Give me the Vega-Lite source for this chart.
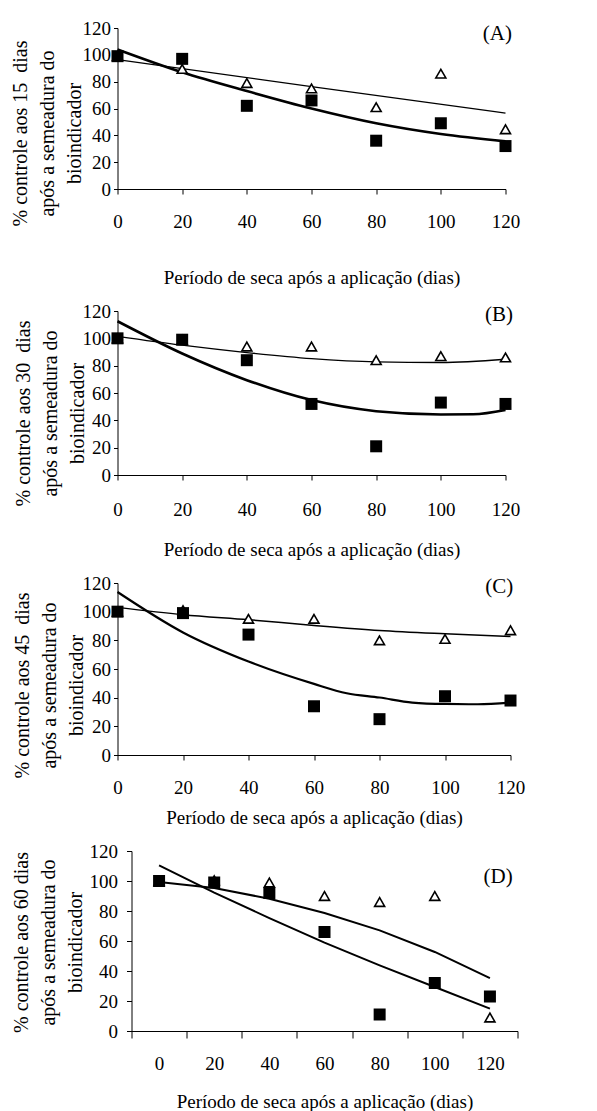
{
  "$schema": "https://vega.github.io/schema/vega-lite/v6.json",
  "background": "white",
  "padding": {"left": 9.5, "top": 19, "right": 0, "bottom": 0},
  "autosize": {"type": "pad"},
  "config": {
    "font": "Liberation Serif",
    "view": {"stroke": null},
    "axis": {
      "domainColor": "black", "tickColor": "black", "labelColor": "black", "titleColor": "black",
      "labelFont": "Liberation Serif", "titleFont": "Liberation Serif",
      "labelFontSize": 19, "titleFontSize": 19, "titleFontWeight": "normal",
      "grid": false, "labelFlush": false, "labelOverlap": false, "labelBound": false,
      "domainWidth": 1, "tickWidth": 1, "titleLineHeight": 27
    },
    "axisLeft": {"titleFontSize": 20, "titleBaseline": "alphabetic"}
  },
  "datasets": {
    "pts": [
      {"panel": "A", "s": "sq", "day": 0, "value": 99}, {"panel": "A", "s": "sq", "day": 20, "value": 97}, {"panel": "A", "s": "sq", "day": 40, "value": 62}, {"panel": "A", "s": "sq", "day": 60, "value": 66}, {"panel": "A", "s": "sq", "day": 80, "value": 36}, {"panel": "A", "s": "sq", "day": 100, "value": 49}, {"panel": "A", "s": "sq", "day": 120, "value": 32},
      {"panel": "A", "s": "tri", "day": 0, "value": 99}, {"panel": "A", "s": "tri", "day": 20, "value": 89.5}, {"panel": "A", "s": "tri", "day": 40, "value": 79}, {"panel": "A", "s": "tri", "day": 60, "value": 75}, {"panel": "A", "s": "tri", "day": 80, "value": 61}, {"panel": "A", "s": "tri", "day": 100, "value": 86}, {"panel": "A", "s": "tri", "day": 120, "value": 44.5},
      {"panel": "B", "s": "sq", "day": 0, "value": 100}, {"panel": "B", "s": "sq", "day": 20, "value": 99}, {"panel": "B", "s": "sq", "day": 40, "value": 84}, {"panel": "B", "s": "sq", "day": 60, "value": 52}, {"panel": "B", "s": "sq", "day": 80, "value": 21}, {"panel": "B", "s": "sq", "day": 100, "value": 53}, {"panel": "B", "s": "sq", "day": 120, "value": 52},
      {"panel": "B", "s": "tri", "day": 0, "value": 100}, {"panel": "B", "s": "tri", "day": 20, "value": 99}, {"panel": "B", "s": "tri", "day": 40, "value": 94}, {"panel": "B", "s": "tri", "day": 60, "value": 94}, {"panel": "B", "s": "tri", "day": 80, "value": 84}, {"panel": "B", "s": "tri", "day": 100, "value": 87}, {"panel": "B", "s": "tri", "day": 120, "value": 86},
      {"panel": "C", "s": "sq", "day": 0, "value": 100}, {"panel": "C", "s": "sq", "day": 20, "value": 99}, {"panel": "C", "s": "sq", "day": 40, "value": 84}, {"panel": "C", "s": "sq", "day": 60, "value": 34}, {"panel": "C", "s": "sq", "day": 80, "value": 25}, {"panel": "C", "s": "sq", "day": 100, "value": 41}, {"panel": "C", "s": "sq", "day": 120, "value": 38},
      {"panel": "C", "s": "tri", "day": 0, "value": 100}, {"panel": "C", "s": "tri", "day": 20, "value": 101}, {"panel": "C", "s": "tri", "day": 40, "value": 95}, {"panel": "C", "s": "tri", "day": 60, "value": 95}, {"panel": "C", "s": "tri", "day": 80, "value": 80}, {"panel": "C", "s": "tri", "day": 100, "value": 81}, {"panel": "C", "s": "tri", "day": 120, "value": 87},
      {"panel": "D", "s": "sq", "day": 0, "value": 100}, {"panel": "D", "s": "sq", "day": 20, "value": 99}, {"panel": "D", "s": "sq", "day": 40, "value": 92}, {"panel": "D", "s": "sq", "day": 60, "value": 66}, {"panel": "D", "s": "sq", "day": 80, "value": 11}, {"panel": "D", "s": "sq", "day": 100, "value": 32}, {"panel": "D", "s": "sq", "day": 120, "value": 23},
      {"panel": "D", "s": "tri", "day": 0, "value": 100}, {"panel": "D", "s": "tri", "day": 20, "value": 100.5}, {"panel": "D", "s": "tri", "day": 40, "value": 99}, {"panel": "D", "s": "tri", "day": 60, "value": 90}, {"panel": "D", "s": "tri", "day": 80, "value": 86}, {"panel": "D", "s": "tri", "day": 100, "value": 90}, {"panel": "D", "s": "tri", "day": 120, "value": 9}
    ],
    "crv": [
      {"panel": "A", "fit": "thick", "day": 0, "value": 104}, {"panel": "A", "fit": "thick", "day": 20, "value": 87}, {"panel": "A", "fit": "thick", "day": 40, "value": 73}, {"panel": "A", "fit": "thick", "day": 60, "value": 60}, {"panel": "A", "fit": "thick", "day": 80, "value": 49}, {"panel": "A", "fit": "thick", "day": 100, "value": 41}, {"panel": "A", "fit": "thick", "day": 120, "value": 35.5},
      {"panel": "A", "fit": "thin", "day": 0, "value": 96.4}, {"panel": "A", "fit": "thin", "day": 60, "value": 76.3}, {"panel": "A", "fit": "thin", "day": 120, "value": 56.6},
      {"panel": "B", "fit": "thick", "day": 0, "value": 112.5}, {"panel": "B", "fit": "thick", "day": 20, "value": 88.9}, {"panel": "B", "fit": "thick", "day": 40, "value": 69.4}, {"panel": "B", "fit": "thick", "day": 60, "value": 54.8}, {"panel": "B", "fit": "thick", "day": 80, "value": 46.7}, {"panel": "B", "fit": "thick", "day": 100, "value": 44.3}, {"panel": "B", "fit": "thick", "day": 110, "value": 44.4}, {"panel": "B", "fit": "thick", "day": 120, "value": 47.5},
      {"panel": "B", "fit": "thin", "day": 0, "value": 101.5}, {"panel": "B", "fit": "thin", "day": 20, "value": 95}, {"panel": "B", "fit": "thin", "day": 40, "value": 89.6}, {"panel": "B", "fit": "thin", "day": 60, "value": 85.2}, {"panel": "B", "fit": "thin", "day": 80, "value": 82.8}, {"panel": "B", "fit": "thin", "day": 100, "value": 82.3}, {"panel": "B", "fit": "thin", "day": 120, "value": 84.7},
      {"panel": "C", "fit": "thick", "day": 0, "value": 113.7}, {"panel": "C", "fit": "thick", "day": 20, "value": 85.5}, {"panel": "C", "fit": "thick", "day": 40, "value": 65.2}, {"panel": "C", "fit": "thick", "day": 60, "value": 49.6}, {"panel": "C", "fit": "thick", "day": 70, "value": 43.1}, {"panel": "C", "fit": "thick", "day": 80, "value": 40.1}, {"panel": "C", "fit": "thick", "day": 90, "value": 36.6}, {"panel": "C", "fit": "thick", "day": 100, "value": 35.6}, {"panel": "C", "fit": "thick", "day": 110, "value": 35.4}, {"panel": "C", "fit": "thick", "day": 120, "value": 36.6},
      {"panel": "C", "fit": "thin", "day": 0, "value": 103}, {"panel": "C", "fit": "thin", "day": 20, "value": 97.9}, {"panel": "C", "fit": "thin", "day": 40, "value": 94.4}, {"panel": "C", "fit": "thin", "day": 60, "value": 90.4}, {"panel": "C", "fit": "thin", "day": 80, "value": 86.9}, {"panel": "C", "fit": "thin", "day": 100, "value": 84.6}, {"panel": "C", "fit": "thin", "day": 120, "value": 82.7},
      {"panel": "D", "fit": "thick", "day": 0, "value": 110.4}, {"panel": "D", "fit": "thick", "day": 20, "value": 92.2}, {"panel": "D", "fit": "thick", "day": 40, "value": 75.3}, {"panel": "D", "fit": "thick", "day": 60, "value": 58.9}, {"panel": "D", "fit": "thick", "day": 80, "value": 43.8}, {"panel": "D", "fit": "thick", "day": 100, "value": 29.3}, {"panel": "D", "fit": "thick", "day": 120, "value": 14.9},
      {"panel": "D", "fit": "thin", "day": 0, "value": 99.3}, {"panel": "D", "fit": "thin", "day": 20, "value": 95.3}, {"panel": "D", "fit": "thin", "day": 40, "value": 88.2}, {"panel": "D", "fit": "thin", "day": 60, "value": 78.7}, {"panel": "D", "fit": "thin", "day": 80, "value": 67.1}, {"panel": "D", "fit": "thin", "day": 100, "value": 52.7}, {"panel": "D", "fit": "thin", "day": 120, "value": 35.3}
    ],
    "lbl": [
      {"panel": "A", "day": 117.5, "value": 115.5, "label": "(A)"},
      {"panel": "B", "day": 118, "value": 116.8, "label": "(B)"},
      {"panel": "C", "day": 116.6, "value": 117, "label": "(C)"},
      {"panel": "D", "day": 123, "value": 102.5, "label": "(D)"}
    ]
  },
  "concat": [
    {
      "width": 388, "height": 161,
      "encoding": {
        "x": {"field": "day", "type": "quantitative", "scale": {"domain": [0, 120], "nice": false},
          "axis": {"values": [0, 20, 40, 60, 80, 100, 120], "tickSize": 5, "labelPadding": 18, "title": "Período de seca após a aplicação (dias)", "titleY": 88, "titleBaseline": "middle"}},
        "y": {"field": "value", "type": "quantitative", "scale": {"domain": [0, 120], "nice": false},
          "axis": {"values": [0, 20, 40, 60, 80, 100, 120], "tickSize": 4, "labelPadding": 3, "title": ["% controle aos 15 \u00a0dias", "após a semeadura do", "bioindicador"], "titleX": -91, "titleY": 105}}
      },
      "layer": [
        {"data": {"name": "crv"}, "transform": [{"filter": "datum.panel == 'A' && datum.fit == 'thin'"}], "mark": {"type": "line", "color": "black", "strokeWidth": 1.3, "interpolate": "monotone"}, "encoding": {}},
        {"data": {"name": "crv"}, "transform": [{"filter": "datum.panel == 'A' && datum.fit == 'thick'"}], "mark": {"type": "line", "color": "black", "strokeWidth": 2.6, "interpolate": "monotone"}, "encoding": {}},
        {"data": {"name": "pts"}, "transform": [{"filter": "datum.panel == 'A' && datum.s == 'tri'"}], "mark": {"type": "point", "shape": "triangle-up", "filled": true, "fill": "white", "stroke": "black", "strokeWidth": 1.6, "size": 100, "opacity": 1}, "encoding": {}},
        {"data": {"name": "pts"}, "transform": [{"filter": "datum.panel == 'A' && datum.s == 'sq'"}], "mark": {"type": "square", "color": "black", "size": 144, "opacity": 1}, "encoding": {}},
        {"data": {"name": "lbl"}, "transform": [{"filter": "datum.panel == 'A'"}], "mark": {"type": "text", "font": "Liberation Serif", "fontSize": 21, "color": "black", "align": "center", "baseline": "middle"}, "encoding": {"text": {"field": "label"}}}
      ]
    },
    {
      "width": 388, "height": 164,
      "encoding": {
        "x": {"field": "day", "type": "quantitative", "scale": {"domain": [0, 120], "nice": false},
          "axis": {"values": [0, 20, 40, 60, 80, 100, 120], "tickSize": 5, "labelPadding": 20, "title": "Período de seca após a aplicação (dias)", "titleY": 74, "titleBaseline": "middle"}},
        "y": {"field": "value", "type": "quantitative", "scale": {"domain": [0, 120], "nice": false},
          "axis": {"values": [0, 20, 40, 60, 80, 100, 120], "tickSize": 4, "labelPadding": 3, "title": ["% controle aos 30 \u00a0dias", "após a semeadura do", "bioindicador"], "titleX": -88.5, "titleY": 102}}
      },
      "layer": [
        {"data": {"name": "crv"}, "transform": [{"filter": "datum.panel == 'B' && datum.fit == 'thin'"}], "mark": {"type": "line", "color": "black", "strokeWidth": 1.3, "interpolate": "monotone"}, "encoding": {}},
        {"data": {"name": "crv"}, "transform": [{"filter": "datum.panel == 'B' && datum.fit == 'thick'"}], "mark": {"type": "line", "color": "black", "strokeWidth": 2.6, "interpolate": "monotone"}, "encoding": {}},
        {"data": {"name": "pts"}, "transform": [{"filter": "datum.panel == 'B' && datum.s == 'tri'"}], "mark": {"type": "point", "shape": "triangle-up", "filled": true, "fill": "white", "stroke": "black", "strokeWidth": 1.6, "size": 100, "opacity": 1}, "encoding": {}},
        {"data": {"name": "pts"}, "transform": [{"filter": "datum.panel == 'B' && datum.s == 'sq'"}], "mark": {"type": "square", "color": "black", "size": 144, "opacity": 1}, "encoding": {}},
        {"data": {"name": "lbl"}, "transform": [{"filter": "datum.panel == 'B'"}], "mark": {"type": "text", "font": "Liberation Serif", "fontSize": 21, "color": "black", "align": "center", "baseline": "middle"}, "encoding": {"text": {"field": "label"}}}
      ]
    },
    {
      "width": 393, "height": 172,
      "encoding": {
        "x": {"field": "day", "type": "quantitative", "scale": {"domain": [0, 120], "nice": false},
          "axis": {"values": [0, 20, 40, 60, 80, 100, 120], "tickSize": 5, "labelPadding": 18, "title": "Período de seca após a aplicação (dias)", "titleY": 62, "titleBaseline": "middle"}},
        "y": {"field": "value", "type": "quantitative", "scale": {"domain": [0, 120], "nice": false},
          "axis": {"values": [0, 20, 40, 60, 80, 100, 120], "tickSize": 4, "labelPadding": 3, "title": ["% controle aos 45 \u00a0dias", "após a semeadura do", "bioindicador"], "titleX": -89, "titleY": 102}}
      },
      "layer": [
        {"data": {"name": "crv"}, "transform": [{"filter": "datum.panel == 'C' && datum.fit == 'thin'"}], "mark": {"type": "line", "color": "black", "strokeWidth": 1.5, "interpolate": "monotone"}, "encoding": {}},
        {"data": {"name": "crv"}, "transform": [{"filter": "datum.panel == 'C' && datum.fit == 'thick'"}], "mark": {"type": "line", "color": "black", "strokeWidth": 2.2, "interpolate": "monotone"}, "encoding": {}},
        {"data": {"name": "pts"}, "transform": [{"filter": "datum.panel == 'C' && datum.s == 'tri'"}], "mark": {"type": "point", "shape": "triangle-up", "filled": true, "fill": "white", "stroke": "black", "strokeWidth": 1.6, "size": 100, "opacity": 1}, "encoding": {}},
        {"data": {"name": "pts"}, "transform": [{"filter": "datum.panel == 'C' && datum.s == 'sq'"}], "mark": {"type": "square", "color": "black", "size": 144, "opacity": 1}, "encoding": {}},
        {"data": {"name": "lbl"}, "transform": [{"filter": "datum.panel == 'C'"}], "mark": {"type": "text", "font": "Liberation Serif", "fontSize": 21, "color": "black", "align": "center", "baseline": "middle"}, "encoding": {"text": {"field": "label"}}}
      ]
    },
    {
      "spacing": -117,
      "hconcat": [
        {"width": 10, "height": 10, "data": {"values": [{"k": 1}]}, "mark": {"type": "point", "opacity": 0}},
        {
          "width": 386, "height": 180,
          "encoding": {
            "x": {"field": "day", "type": "quantitative", "scale": {"domain": [-10, 130], "nice": false, "zero": false},
              "axis": {"values": [-10, 10, 30, 50, 70, 90, 110, 130], "labelExpr": "datum.value > 125 ? '' : format(datum.value + 10, 'd')", "labelOffset": 27.6, "tickSize": 7, "labelPadding": 16, "title": "Período de seca após a aplicação (dias)", "titleY": 70, "titleBaseline": "middle"}},
            "y": {"field": "value", "type": "quantitative", "scale": {"domain": [0, 120], "nice": false},
              "axis": {"values": [0, 20, 40, 60, 80, 100, 120], "tickSize": 5, "labelPadding": 9, "title": ["% controle aos 60 dias", "após a semeadura do", "bioindicador"], "titleX": -104, "titleY": 91}}
          },
          "layer": [
            {"data": {"name": "crv"}, "transform": [{"filter": "datum.panel == 'D' && datum.fit == 'thin'"}], "mark": {"type": "line", "color": "black", "strokeWidth": 2}, "encoding": {}},
            {"data": {"name": "crv"}, "transform": [{"filter": "datum.panel == 'D' && datum.fit == 'thick'"}], "mark": {"type": "line", "color": "black", "strokeWidth": 2}, "encoding": {}},
            {"data": {"name": "pts"}, "transform": [{"filter": "datum.panel == 'D' && datum.s == 'tri'"}], "mark": {"type": "point", "shape": "triangle-up", "filled": true, "fill": "white", "stroke": "black", "strokeWidth": 1.6, "size": 100, "opacity": 1}, "encoding": {}},
            {"data": {"name": "pts"}, "transform": [{"filter": "datum.panel == 'D' && datum.s == 'sq'"}], "mark": {"type": "square", "color": "black", "size": 144, "opacity": 1}, "encoding": {}},
            {"data": {"name": "lbl"}, "transform": [{"filter": "datum.panel == 'D'"}], "mark": {"type": "text", "font": "Liberation Serif", "fontSize": 21, "color": "black", "align": "center", "baseline": "middle"}, "encoding": {"text": {"field": "label"}}}
          ]
        }
      ]
    }
  ],
  "columns": 1,
  "bounds": "full",
  "spacing": 15
}
